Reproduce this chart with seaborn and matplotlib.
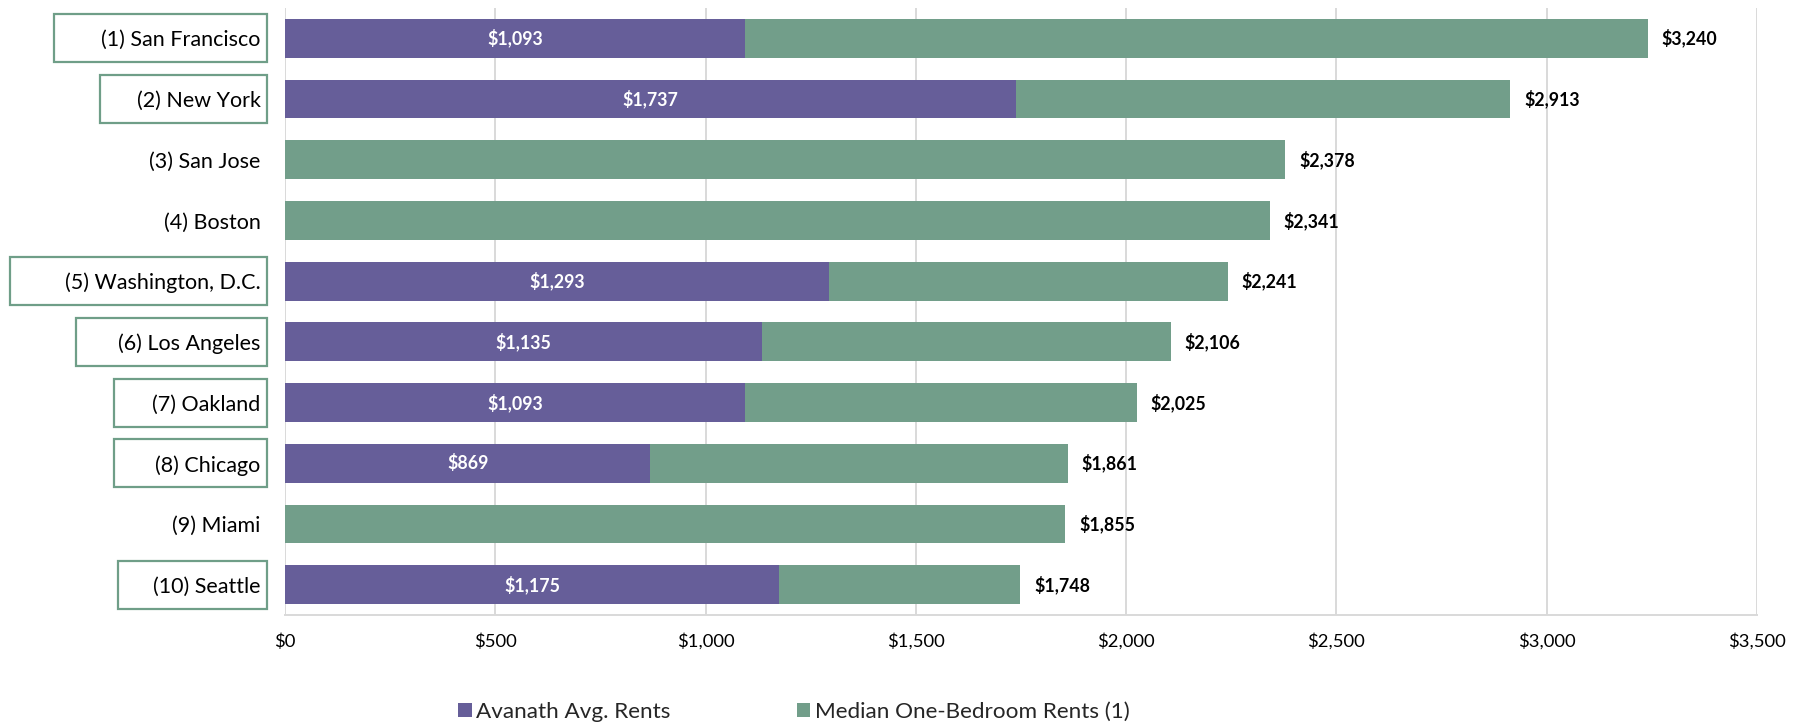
import numpy as np
import pandas as pd
import matplotlib
matplotlib.use("Agg")
import matplotlib.pyplot as plt
import seaborn as sns
from matplotlib.patches import Rectangle
from matplotlib.transforms import blended_transform_factory
from matplotlib.ticker import FuncFormatter

# ---------------- data ----------------
cities = ["(1) San Francisco", "(2) New York", "(3) San Jose", "(4) Boston",
          "(5) Washington, D.C.", "(6) Los Angeles", "(7) Oakland",
          "(8) Chicago", "(9) Miami", "(10) Seattle"]
median_rents = [3240, 2913, 2378, 2341, 2241, 2106, 2025, 1861, 1855, 1748]
avanath_rents = [1093, 1737, np.nan, np.nan, 1293, 1135, 1093, 869, np.nan, 1175]
x_ticks = [0, 500, 1000, 1500, 2000, 2500, 3000, 3500]
series_names = ["Avanath Avg. Rents", "Median One-Bedroom Rents (1)"]

# ---------------- style ----------------
PURPLE = "#665E99"
GREEN = "#729E8A"
BOX_EC = "#6F9E88"
GRID = "#D9D9D9"
# left edge (figure px) of the outline box around each boxed label; None = no box
box_left_px = [54, 100, None, None, 10, 76, 114, 114, None, 118]
box_right_px = 267
W, H = 1801, 726

sns.set_theme(style="white")
plt.rcParams["font.family"] = ["Lato", "DejaVu Sans"]

fig = plt.figure(figsize=(W / 100, H / 100), dpi=100)
ax = fig.add_axes([285 / W, 1 - 615 / H, (1757 - 285) / W, (615 - 8) / H])

df = pd.DataFrame({"city": cities, "median": median_rents, "avanath": avanath_rents})
sns.barplot(data=df, x="median", y="city", order=cities, orient="h",
            color=GREEN, saturation=1, width=0.64, errorbar=None,
            linewidth=0, label=series_names[1], ax=ax)
sub = df.dropna(subset=["avanath"])
sns.barplot(data=sub, x="avanath", y="city", order=cities, orient="h",
            color=PURPLE, saturation=1, width=0.64, errorbar=None,
            linewidth=0, label=series_names[0], ax=ax)

fmt = lambda v: f"${v:,.0f}"
ax.bar_label(ax.containers[0], labels=[fmt(v) for v in ax.containers[0].datavalues],
             padding=10, fontsize=12.8, fontweight="bold", color="black")
ax.bar_label(ax.containers[1], labels=[fmt(v) for v in ax.containers[1].datavalues],
             label_type="center", fontsize=12.8, fontweight="bold", color="white")

ax.set_xlim(0, 3500)
ax.set_ylim(len(cities) - 0.5, -0.5)
ax.set_xticks(x_ticks)
ax.xaxis.set_major_formatter(FuncFormatter(lambda v, p: fmt(v)))
ax.set_xlabel("")
ax.set_ylabel("")
ax.xaxis.grid(True, color=GRID, linewidth=1.4)
ax.yaxis.grid(False)
ax.set_axisbelow(True)
for s in ["top", "right", "left"]:
    ax.spines[s].set_visible(False)
ax.spines["bottom"].set_color(GRID)
ax.spines["bottom"].set_linewidth(1.4)
ax.tick_params(axis="y", length=0, pad=17.5, labelsize=15.5, labelcolor="black")
ax.tick_params(axis="x", length=0, pad=13, labelsize=13.3, labelcolor="black")

# outline boxes around selected category labels
trans = blended_transform_factory(fig.transFigure, ax.transData)
for i, lp in enumerate(box_left_px):
    if lp is None:
        continue
    rect = Rectangle((lp / W, i - 0.395), (box_right_px - lp) / W, 0.79,
                     transform=trans, fill=False, edgecolor=BOX_EC,
                     linewidth=1.6, clip_on=False)
    fig.add_artist(rect)

handles, labels = ax.get_legend_handles_labels()
lookup = dict(zip(labels, handles))
if ax.get_legend() is not None:
    ax.get_legend().remove()
fig.legend(handles=[lookup[n] for n in series_names], labels=series_names,
           loc="center", bbox_to_anchor=(794 / W, 1 - 712 / H), ncol=2,
           frameon=False, fontsize=16.2, handlelength=0.6, handleheight=0.6,
           handletextpad=0.2, columnspacing=5.6)

fig.savefig("out.png", dpi=100)
